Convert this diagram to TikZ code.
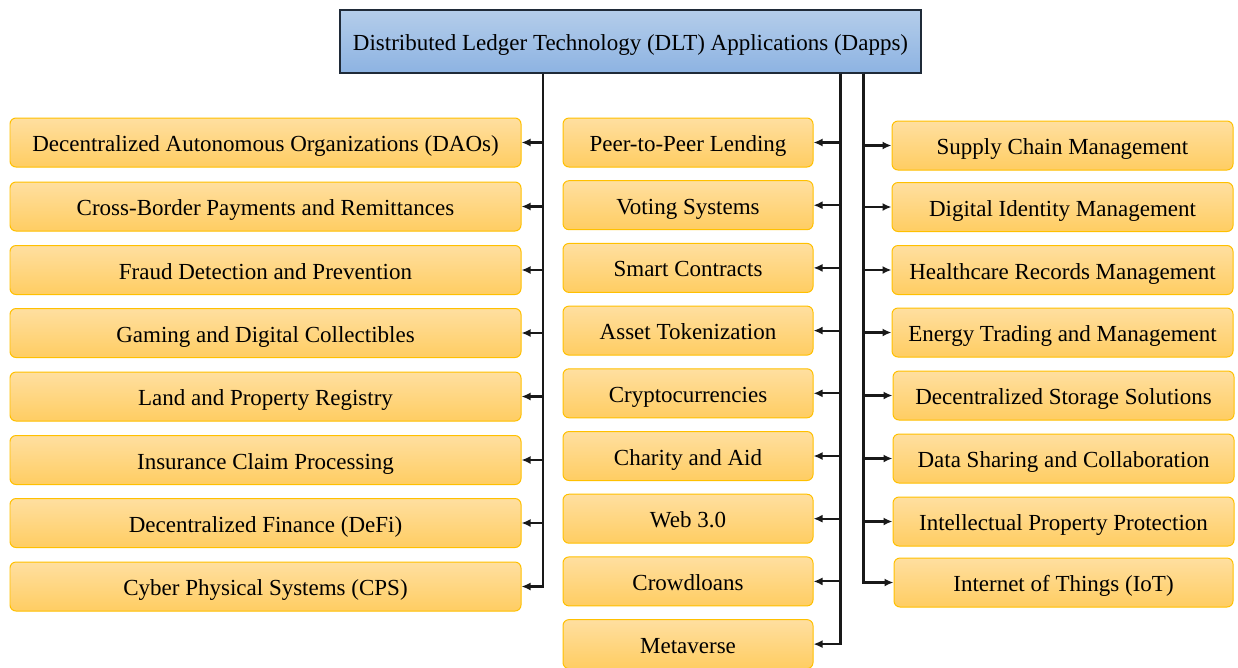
\documentclass[tikz,border=0pt]{standalone}
\usepackage{fontspec}
\setmainfont{Liberation Serif}
\usepackage{tikz}
\usetikzlibrary{shapes.geometric, arrows.meta}
\definecolor{titletop}{HTML}{B4CDEA}
\definecolor{titlebot}{HTML}{8DB3E2}
\definecolor{titleline}{HTML}{1F2A38}
\definecolor{apptop}{HTML}{FFDFA0}
\definecolor{appbot}{HTML}{FFCD62}
\definecolor{appline}{HTML}{FFC000}

\begin{document}
\begin{tikzpicture}[x=1pt, y=-1pt,
		      topbox/.style={rectangle, draw=titleline, line width=0.6mm, top color=titletop, bottom color=titlebot, minimum width=581pt, minimum height=63pt, inner sep=0pt, text height=18pt, text depth=0pt},
		      appbox/.style={rectangle, rounded corners=6pt, draw=appline, line width=0.35mm, top color=apptop, bottom color=appbot, minimum height=49pt, inner sep=0pt, text height=18pt, text depth=0pt},
		      link/.style={->, >={Latex[length=9pt, width=8pt]}, line width=0.75mm, color=black!90}]
		      \useasboundingbox (0,0) rectangle (1238,667);

		      \node[topbox] (dlt) at (630.5, 41.5) {\fontsize{23}{27}\selectfont Distributed Ledger Technology (DLT) Applications (Dapps)};

		      \node[appbox, minimum width=511pt] (l1) at (265.5, 142.5) {\fontsize{23}{27}\selectfont Decentralized Autonomous Organizations (DAOs)};
		      \node[appbox, minimum width=511pt] (l2) at (265.5, 206.5) {\fontsize{23}{27}\selectfont Cross-Border Payments and Remittances};
		      \node[appbox, minimum width=511pt] (l3) at (265.5, 270) {\fontsize{23}{27}\selectfont Fraud Detection and Prevention};
		      \node[appbox, minimum width=511pt] (l4) at (265.5, 333) {\fontsize{23}{27}\selectfont Gaming and Digital Collectibles};
		      \node[appbox, minimum width=511pt] (l5) at (265.5, 396.5) {\fontsize{23}{27}\selectfont Land and Property Registry};
		      \node[appbox, minimum width=511pt] (l6) at (265.5, 460) {\fontsize{23}{27}\selectfont Insurance Claim Processing};
		      \node[appbox, minimum width=511pt] (l7) at (265.5, 523) {\fontsize{23}{27}\selectfont Decentralized Finance (DeFi)};
		      \node[appbox, minimum width=511pt] (l8) at (265.5, 586.5) {\fontsize{23}{27}\selectfont Cyber Physical Systems (CPS)};

		      \node[appbox, minimum width=250pt] (m1) at (688, 142.5) {\fontsize{23}{27}\selectfont Peer-to-Peer Lending};
		      \node[appbox, minimum width=250pt] (m2) at (688, 205.2) {\fontsize{23}{27}\selectfont Voting Systems};
		      \node[appbox, minimum width=250pt] (m3) at (688, 267.9) {\fontsize{23}{27}\selectfont Smart Contracts};
		      \node[appbox, minimum width=250pt] (m4) at (688, 330.6) {\fontsize{23}{27}\selectfont Asset Tokenization};
		      \node[appbox, minimum width=250pt] (m5) at (688, 393.3) {\fontsize{23}{27}\selectfont Cryptocurrencies};
		      \node[appbox, minimum width=250pt] (m6) at (688, 456) {\fontsize{23}{27}\selectfont Charity and Aid};
		      \node[appbox, minimum width=250pt] (m7) at (688, 518.7) {\fontsize{23}{27}\selectfont Web 3.0};
		      \node[appbox, minimum width=250pt] (m8) at (688, 581.4) {\fontsize{23}{27}\selectfont Crowdloans};
		      \node[appbox, minimum width=250pt] (m9) at (688, 644.1) {\fontsize{23}{27}\selectfont Metaverse};

		      \node[appbox, minimum width=341pt] (r1) at (1062.5, 145.5) {\fontsize{23}{27}\selectfont Supply Chain Management};
		      \node[appbox, minimum width=341pt] (r2) at (1062.5, 207) {\fontsize{23}{27}\selectfont Digital Identity Management};
		      \node[appbox, minimum width=341pt] (r3) at (1062.5, 270) {\fontsize{23}{27}\selectfont Healthcare Records Management};
		      \node[appbox, minimum width=341pt] (r4) at (1062.5, 332.5) {\fontsize{23}{27}\selectfont Energy Trading and Management};
		      \node[appbox, minimum width=341pt] (r5) at (1063.5, 395.5) {\fontsize{23}{27}\selectfont Decentralized Storage Solutions};
		      \node[appbox, minimum width=341pt] (r6) at (1063.5, 458.5) {\fontsize{23}{27}\selectfont Data Sharing and Collaboration};
		      \node[appbox, minimum width=341pt] (r7) at (1063.5, 521.5) {\fontsize{23}{27}\selectfont Intellectual Property Protection};
		      \node[appbox, minimum width=339pt] (r8) at (1063.5, 582.5) {\fontsize{23}{27}\selectfont Internet of Things (IoT)};

		      \coordinate (tl) at (543, 0);
		      \coordinate (tm) at (840.5, 0);
		      \coordinate (tr) at (863.5, 0);

		      \draw[link] (dlt.south -| tl) |- (l1.east);
		      \draw[link] (dlt.south -| tl) |- (l2.east);
		      \draw[link] (dlt.south -| tl) |- (l3.east);
		      \draw[link] (dlt.south -| tl) |- (l4.east);
		      \draw[link] (dlt.south -| tl) |- (l5.east);
		      \draw[link] (dlt.south -| tl) |- (l6.east);
		      \draw[link] (dlt.south -| tl) |- (l7.east);
		      \draw[link] (dlt.south -| tl) |- (l8.east);

		      \draw[link] (dlt.south -| tm) |- (m1.east);
		      \draw[link] (dlt.south -| tm) |- (m2.east);
		      \draw[link] (dlt.south -| tm) |- (m3.east);
		      \draw[link] (dlt.south -| tm) |- (m4.east);
		      \draw[link] (dlt.south -| tm) |- (m5.east);
		      \draw[link] (dlt.south -| tm) |- (m6.east);
		      \draw[link] (dlt.south -| tm) |- (m7.east);
		      \draw[link] (dlt.south -| tm) |- (m8.east);
		      \draw[link] (dlt.south -| tm) |- (m9.east);

		      \draw[link] (dlt.south -| tr) |- (r1.west);
		      \draw[link] (dlt.south -| tr) |- (r2.west);
		      \draw[link] (dlt.south -| tr) |- (r3.west);
		      \draw[link] (dlt.south -| tr) |- (r4.west);
		      \draw[link] (dlt.south -| tr) |- (r5.west);
		      \draw[link] (dlt.south -| tr) |- (r6.west);
		      \draw[link] (dlt.south -| tr) |- (r7.west);
		      \draw[link] (dlt.south -| tr) |- (r8.west);

	      \end{tikzpicture}
\end{document}
